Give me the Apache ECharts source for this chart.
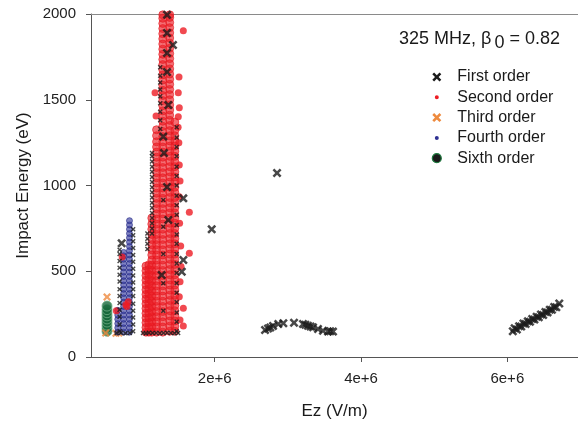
<!DOCTYPE html>
<html><head><meta charset="utf-8">
<script src="https://cdn.jsdelivr.net/npm/echarts@6/dist/echarts.min.js"></script>
<style>html,body{margin:0;padding:0;background:#fff}#c{width:578px;height:426px}</style>
</head><body><div id="c"></div>
<script>
// ---------- data ----------
const xTicks = [2e6, 4e6, 6e6];
const yTicks = [0, 500, 1000, 1500, 2000];

// First order: dense small markers along the column edges
const firstColX = [0.700e6, 0.885e6, 1.080e6, 1.143e6, 1.255e6, 1.297e6, 1.480e6];
const firstColY = [
  [150,190,235,275,315,355,395,440,480,520,560,600,625],
  [150,190,230,270,310,355,395,435,475,515,555,595,635,675,710,745],
  [630,660,690,720],
  [720,750,780,810,840,870,900,930,960,990,1020,1050,1080,1110,1140,1170,1190],
  [1330,1380,1430,1480,1520,1560,1600,1640,1690],
  [270,430,600,760,915],
  [150,205,260,320,375,430,490,545,600,660,715,770,830,885,940,1000,1055,1110,1170,1225,1280,1340]
];
const firstRowX = [0.66e6,0.72e6,0.78e6,0.84e6,1.02e6,1.06e6,1.10e6,1.15e6,1.20e6,1.25e6,1.30e6,1.35e6,1.40e6,1.45e6,1.50e6];
const firstRowY = [140,141,139,140,140,139,141,140,140,139,140,141,140,139,140];
// First order: isolated crosses
const firstBigX = [0.728e6,1.348e6,1.348e6,1.430e6,1.348e6,1.348e6,1.366e6,1.297e6,1.307e6,1.348e6,1.366e6,1.275e6,1.571e6,1.571e6,1.550e6,1.959e6,2.852e6];
const firstBigY = [663,1995,1889,1819,1773,1662,1469,1285,1189,991,799,478,925,566,497,745,1073];
const firstMidX = [2.688e6,2.729e6,2.760e6,2.797e6,2.869e6,2.938e6,3.084e6,3.207e6,3.240e6,3.275e6,3.310e6,3.344e6,3.412e6,3.480e6,3.549e6,3.580e6,3.617e6];
const firstMidY = [157,166,172,181,192,197,200,192,188,182,178,173,163,153,148,150,148];
const firstRightX = [6.075e6,6.10e6,6.13e6,6.16e6,6.19e6,6.22e6,6.25e6,6.28e6,6.31e6,6.34e6,6.37e6,6.40e6,6.43e6,6.46e6,6.49e6,6.52e6,6.55e6,6.58e6,6.61e6,6.64e6,6.67e6,6.71e6];
const firstRightY = [150,168,160,180,178,195,192,208,205,222,218,235,232,248,245,262,260,276,275,292,290,312];

// Second order: columns
const secondColX = [1.060e6, 1.100e6, 1.140e6, 1.205e6, 1.290e6, 1.385e6, 1.455e6];
const secondColY = [
  [145,172,200,228,255,283,310,338,365,392,420,448,475,503,530],
  [145,173,201,229,257,285,313,341,369,397,425,453,481,509,537],
  [145,175,205,235,265,295,325,355,385,415,445,475,505,535,565,595,625,655,685,715,745,775,810],
  [145,175,205,235,265,295,325,355,385,415,445,475,505,535,565,595,625,655,685,715,745,775,805,835,865,895,925,955,985,1015,1045,1075,1105,1135,1165,1195,1225,1255,1290,1325],
  [145,175,205,235,265,295,325,355,385,415,445,475,505,535,565,595,625,655,685,715,745,775,805,835,865,895,925,955,985,1015,1045,1075,1105,1135,1165,1195,1225,1255,1285,1315,1345,1375,1405,1435,1465,1495,1525,1555,1585,1615,1645,1675,1705,1735,1765,1795,1825,1855,1885,1915,1945,1975,1995],
  [150,180,210,240,270,300,330,360,390,420,450,480,510,540,570,600,630,660,690,720,750,780,810,840,870,900,930,960,990,1020,1050,1080,1110,1140,1170,1200,1230,1260,1290,1320,1350,1380,1410,1440,1470,1500,1530,1560,1590,1620,1650,1680,1710,1740,1770,1800,1830,1860,1890,1920,1950,1980,1995],
  [150,180,210,240,270,300,330,360,390,420,450,480,510,540,570,600,630,660,690,720,750,780,810,840,870,900,930,960,990,1020,1050,1080,1110,1140,1170,1200,1230,1260,1290,1320,1370]
];
// Second order: scattered points
const secondLooseX = [1.571e6,1.184e6,1.502e6,1.512e6,1.198e6,1.502e6,1.516e6,1.516e6,1.526e6,1.653e6,1.653e6,1.516e6,1.535e6,1.540e6,1.571e6,1.571e6,1.526e6,1.526e6,1.516e6,1.520e6,1.510e6,1.500e6,0.819e6,0.800e6,0.735e6,0.655e6,0.785e6];
const secondLooseY = [1903,1541,1541,1633,1405,1401,1454,1120,1026,844,605,935,647,527,284,181,439,216,352,780,1250,1340,322,295,583,270,305];

// Third order
const thirdX = [0.528e6, 0.510e6, 0.650e6, 0.690e6];
const thirdY = [350, 140, 138, 140];

// Fourth order: columns
const fourthColX = [0.675e6, 0.755e6, 0.835e6];
const fourthColY = [
  [145,170,195,220,245,272],
  [145,170,195,220,245,270,295,320,345,370,395,420,445,470,495,520,545,570,590,610],
  [145,170,195,220,245,270,295,320,345,370,395,420,445,470,495,520,545,570,595,620,645,670,695,720,745,770,795]
];

// Sixth order
const sixthX = [0.528e6];
const sixthY = [[150,168,186,204,222,240,258,276,297]];

// ---------- helpers ----------
const cols = (xs, ys) => xs.flatMap((x, i) => ys[i].map(y => [x, y]));
const pairs = (xs, ys) => xs.map((x, i) => [x, ys[i]]);
const X_PATH = 'path://M2,0L5,3L8,0L10,2L7,5L10,8L8,10L5,7L2,10L0,8L3,5L0,2Z';
const FONT = 'Liberation Sans, Arial, Helvetica, sans-serif';

const chart = echarts.init(document.getElementById('c'), null, {renderer: 'canvas'});
chart.setOption({
  animation: false,
  backgroundColor: '#fff',
  textStyle: {fontFamily: FONT},
  grid: {left: 91, right: 0, top: 14, bottom: 69, containLabel: false},
  title: {
    text: '{a|325 MHz, β}{s|0}{a| = 0.82}',
    left: 399, top: 30, padding: 0,
    textStyle: {
      fontWeight: 'normal',
      rich: {
        a: {fontSize: 18, fontWeight: 'normal', fontFamily: FONT, color: '#1a1a1a', verticalAlign: 'top'},
        s: {fontSize: 18, fontWeight: 'normal', fontFamily: FONT, color: '#1a1a1a', padding: [4, 0, 0, 3], verticalAlign: 'top'}
      }
    }
  },
  legend: {
    orient: 'vertical', left: 424.8, top: 64,
    itemWidth: 9, itemHeight: 9, itemGap: 4.3,
    textStyle: {fontSize: 16, fontFamily: FONT, color: '#1a1a1a', lineHeight: 16, padding: [0, 0, 0, 11]},
    data: [
      {name: 'First order', icon: X_PATH, itemStyle: {color: '#1a1a1a', borderWidth: 0, opacity: 1}},
      {name: 'Second order', icon: 'circle', itemStyle: {color: '#ed1c24', borderColor: '#fff', borderWidth: 5, opacity: 1}},
      {name: 'Third order', icon: X_PATH, itemStyle: {color: '#ee8a3e', borderWidth: 0, opacity: 1}},
      {name: 'Fourth order', icon: 'circle', itemStyle: {color: '#2e3192', borderColor: '#fff', borderWidth: 5, opacity: 1}},
      {name: 'Sixth order', icon: 'circle', itemStyle: {color: '#1a1a1a', borderColor: '#1f7a3f', borderWidth: 1.2, opacity: 1}}
    ]
  },
  xAxis: [{
    type: 'value', min: 309000, max: 6966000, position: 'bottom',
    name: 'Ez (V/m)', nameLocation: 'middle', nameGap: 46,
    nameTextStyle: {fontSize: 17, fontFamily: FONT, color: '#1a1a1a'},
    axisLine: {show: true, lineStyle: {color: '#555', width: 1}},
    axisTick: {show: true, customValues: xTicks, length: 5, lineStyle: {color: '#555'}},
    axisLabel: {customValues: xTicks, margin: 14, fontSize: 15, color: '#222', fontFamily: FONT,
      formatter: v => (v / 1e6) + 'e+6'},
    splitLine: {show: false}
  }, {
    type: 'value', min: 309000, max: 6966000, position: 'top',
    axisLine: {show: true, lineStyle: {color: '#8a8a8a', width: 1}},
    axisTick: {show: false}, axisLabel: {show: false}, splitLine: {show: false}
  }],
  yAxis: {
    type: 'value', min: 0, max: 2000, interval: 500,
    name: 'Impact Energy (eV)', nameLocation: 'middle', nameGap: 58, nameRotate: 90,
    nameTextStyle: {fontSize: 17, fontFamily: FONT, color: '#1a1a1a'},
    axisLine: {show: true, lineStyle: {color: '#555', width: 1}},
    axisTick: {show: true, length: 5, lineStyle: {color: '#555'}},
    axisLabel: {margin: 15, fontSize: 15, color: '#222', fontFamily: FONT,
      formatter: v => String(v)},
    splitLine: {show: false}
  },
  series: [
    {name: 'Sixth order', type: 'scatter', symbol: 'circle', symbolSize: 10,
      itemStyle: {color: '#17683a', borderColor: '#6fae84', borderWidth: 1},
      data: cols(sixthX, sixthY)},
    {name: 'Third order', type: 'scatter', symbol: X_PATH, symbolSize: 8,
      itemStyle: {color: '#ee8a3e'}, data: pairs(thirdX, thirdY)},
    {name: 'Fourth order', type: 'scatter', symbol: 'circle', symbolSize: 6,
      itemStyle: {color: 'rgba(52,56,155,0.78)', borderColor: '#262a88', borderWidth: 0.8},
      data: cols(fourthColX, fourthColY)},
    {name: 'Second order', type: 'scatter', symbol: 'circle', symbolSize: 8,
      itemStyle: {color: 'rgba(237,28,36,0.8)', borderColor: '#e31b23', borderWidth: 0.8},
      data: cols(secondColX, secondColY)},
    {name: 'Second order', type: 'scatter', symbol: 'circle', symbolSize: 7,
      itemStyle: {color: '#ed1c24'}, data: pairs(secondLooseX, secondLooseY)},
    {name: 'First order', type: 'scatter', symbol: X_PATH, symbolSize: 5,
      itemStyle: {color: '#1a1a1a'}, data: cols(firstColX, firstColY).concat(pairs(firstRowX, firstRowY))},
    {name: 'First order', type: 'scatter', symbol: X_PATH, symbolSize: 9,
      itemStyle: {color: '#1a1a1a'},
      data: pairs(firstBigX, firstBigY).concat(pairs(firstMidX, firstMidY), pairs(firstRightX, firstRightY))}
  ]
});
</script></body></html>
